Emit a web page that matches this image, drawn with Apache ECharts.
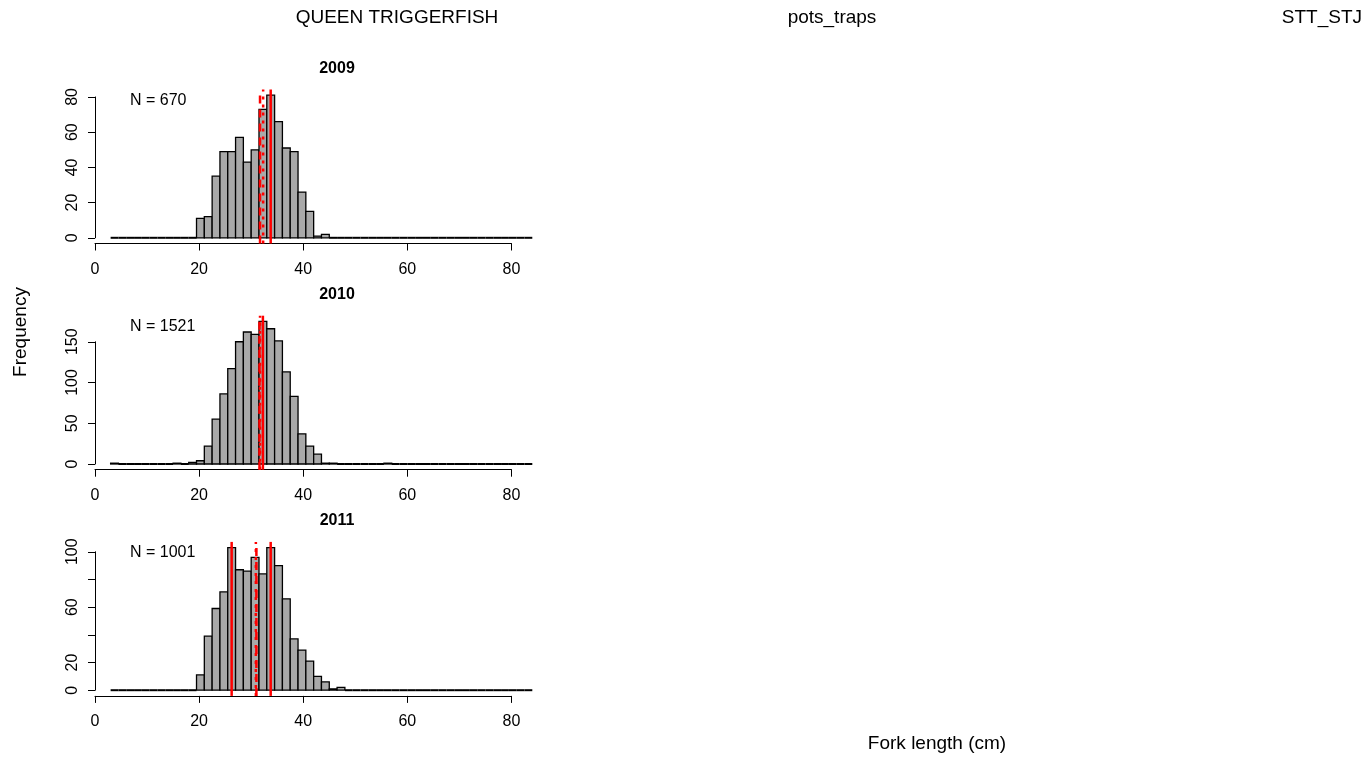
<!DOCTYPE html>
<html>
<head>
<meta charset="utf-8">
<title>Queen triggerfish length composition</title>
<script src="https://cdn.jsdelivr.net/npm/echarts@6/dist/echarts.min.js"></script>
<style>
  html, body { margin: 0; padding: 0; background: #ffffff; }
  #chart { width: 1367px; height: 759px; }
</style>
</head>
<body>
<div id="chart"></div>
<script>
// ---- data ---------------------------------------------------------------
const years = ['2009', '2010', '2011'];
const sampleSizes = [670, 1521, 1001];

// histogram breaks: 54 bins of 1.5 cm starting at 3 cm
const binStart = 3;
const binWidth = 1.5;

const counts2009 = [
  0, 0, 0, 0, 0, 0, 0, 0, 0, 0,
  0, 11, 12, 35, 49, 49, 57, 43, 50, 73,
  81, 66, 51, 49, 26, 15, 1, 2, 0, 0,
  0, 0, 0, 0, 0, 0, 0, 0, 0, 0,
  0, 0, 0, 0, 0, 0, 0, 0, 0, 0,
  0, 0, 0, 0
];
const counts2010 = [
  1, 0, 0, 0, 0, 0, 0, 0, 1, 0,
  2, 4, 22, 55, 86, 117, 150, 162, 159, 175,
  166, 151, 113, 83, 37, 22, 12, 1, 1, 0,
  0, 0, 0, 0, 0, 1, 0, 0, 0, 0,
  0, 0, 0, 0, 0, 0, 0, 0, 0, 0,
  0, 0, 0, 0
];
const counts2011 = [
  0, 0, 0, 0, 0, 0, 0, 0, 0, 0,
  0, 11, 39, 59, 71, 103, 87, 86, 96, 84,
  103, 90, 66, 37, 29, 21, 10, 6, 1, 2,
  0, 0, 0, 0, 0, 0, 0, 0, 0, 0,
  0, 0, 0, 0, 0, 0, 0, 0, 0, 0,
  0, 0, 0, 0
];
const countsByYear = [counts2009, counts2010, counts2011];

// summary statistics (cm)
const meanLength = [31.7, 31.6, 31.0];
const medianLength = [32.3, 31.7, 30.9];
const modeLength = [[33.75], [32.25], [26.25, 33.75]];

// axes
const xTicks = [0, 20, 40, 60, 80];
const yAxisMax = [80, 150, 100];
const yAxisStep = [20, 50, 20];
const yTickLabels = [
  ['0', '20', '40', '60', '80'],
  ['0', '50', '100', '150'],
  ['0', '20', '', '60', '', '100']
];

// header / axis titles
const speciesName = 'QUEEN TRIGGERFISH';
const gearName = 'pots_traps';
const regionName = 'STT_STJ';
const yTitle = 'Frequency';
const xTitle = 'Fork length (cm)';

// ---- layout -------------------------------------------------------------
const FONT = '"Liberation Sans", Arial, Helvetica, sans-serif';
const plotLeft = 95;          // x pixel of 0 cm
const xPxPerCm = 5.206;
const plotTop0 = 89.5;        // top of first panel's plotting region
const panelStep = 226.2;
const plotHeight = 154;
const expand = 0.04;          // axis range expansion of the plotting region

const grids = [], xAxes = [], yAxes = [], series = [], graphics = [];

years.forEach((year, i) => {
  const counts = countsByYear[i];
  const maxCount = Math.max(...counts);
  const span = maxCount * (1 + 2 * expand);
  const pxPerUnit = plotHeight / span;
  const plotTop = plotTop0 + panelStep * i;
  const zeroY = plotTop + maxCount * (1 + expand) * pxPerUnit;
  const gridTop = zeroY - yAxisMax[i] * pxPerUnit;
  const axisDrop = expand * maxCount * pxPerUnit;

  grids.push({
    left: plotLeft,
    top: gridTop,
    width: xTicks[xTicks.length - 1] * xPxPerCm,
    height: yAxisMax[i] * pxPerUnit,
    containLabel: false
  });

  xAxes.push({
    type: 'value', gridIndex: i,
    min: xTicks[0], max: xTicks[xTicks.length - 1], interval: xTicks[1] - xTicks[0],
    offset: axisDrop,
    axisLine: { show: true, onZero: false, lineStyle: { color: '#000', width: 1 } },
    axisTick: { show: true, length: 7, lineStyle: { color: '#000', width: 1 } },
    axisLabel: { show: true, color: '#000', fontSize: 16, fontFamily: FONT, margin: 18 },
    splitLine: { show: false }
  });

  const labels = yTickLabels[i];
  const step = yAxisStep[i];
  yAxes.push({
    type: 'value', gridIndex: i,
    min: 0, max: yAxisMax[i], interval: step,
    axisLine: { show: true, lineStyle: { color: '#000', width: 1 } },
    axisTick: { show: true, length: 7, lineStyle: { color: '#000', width: 1 } },
    axisLabel: {
      show: true, color: '#000', fontSize: 16, fontFamily: FONT,
      rotate: 90, margin: 14,
      formatter: v => labels[Math.round(v / step)] || ''
    },
    splitLine: { show: false }
  });

  // histogram bars
  const barData = counts.map((c, k) => [binStart + k * binWidth, binStart + (k + 1) * binWidth, c]);
  series.push({
    type: 'custom', name: 'hist' + year,
    xAxisIndex: i, yAxisIndex: i,
    clip: false, silent: true,
    encode: { x: [0, 1], y: 2 },
    data: barData,
    renderItem: (params, api) => {
      const x0 = api.value(0), x1 = api.value(1), c = api.value(2);
      const pTop = api.coord([x0, c]);
      const pBot = api.coord([x1, 0]);
      if (c === 0) {
        return {
          type: 'line',
          shape: { x1: pTop[0], y1: pBot[1], x2: pBot[0], y2: pBot[1] },
          style: { stroke: '#000', lineWidth: 2 }
        };
      }
      return {
        type: 'rect',
        shape: { x: pTop[0], y: pTop[1], width: pBot[0] - pTop[0], height: pBot[1] - pTop[1] },
        style: { fill: '#a9a9a9', stroke: '#000', lineWidth: 1.3 }
      };
    }
  });

  // mean (dashed), median (dotted), mode (solid) reference lines
  const yLo = -expand * maxCount, yHi = (1 + expand) * maxCount;
  const lineData = [[meanLength[i], yLo, yHi, 1], [medianLength[i], yLo, yHi, 2]];
  modeLength[i].forEach(m => lineData.push([m, yLo, yHi, 0]));
  const dashes = [null, [8, 6], [3, 5]];
  series.push({
    type: 'custom', name: 'stats' + year,
    xAxisIndex: i, yAxisIndex: i,
    clip: false, silent: true,
    encode: { x: 0, y: [1, 2] },
    data: lineData,
    renderItem: (params, api) => {
      const a = api.coord([api.value(0), api.value(1)]);
      const b = api.coord([api.value(0), api.value(2)]);
      const kind = api.value(3);
      return {
        type: 'line',
        shape: { x1: a[0], y1: a[1], x2: b[0], y2: b[1] },
        style: { stroke: '#ff0000', lineWidth: 2.5, lineDash: dashes[kind], lineCap: 'butt' }
      };
    }
  });

  // panel title and sample size
  graphics.push({
    type: 'text', x: 337, y: plotTop - 21,
    style: { text: year, fill: '#000', fontSize: 16, fontWeight: 'bold', fontFamily: FONT,
             align: 'center', verticalAlign: 'middle' }
  });
  graphics.push({
    type: 'text', x: 130, y: plotTop + 11,
    style: { text: 'N = ' + sampleSizes[i], fill: '#000', fontSize: 16, fontFamily: FONT,
             align: 'left', verticalAlign: 'middle' }
  });
});

// page header and shared axis titles
graphics.push(
  { type: 'text', x: 397, y: 18,
    style: { text: speciesName, fill: '#000', fontSize: 19, fontFamily: FONT, align: 'center', verticalAlign: 'middle' } },
  { type: 'text', x: 832, y: 18,
    style: { text: gearName, fill: '#000', fontSize: 19, fontFamily: FONT, align: 'center', verticalAlign: 'middle' } },
  { type: 'text', x: 1362, y: 18,
    style: { text: regionName, fill: '#000', fontSize: 19, fontFamily: FONT, align: 'right', verticalAlign: 'middle' } },
  { type: 'text', x: 21, y: 332, rotation: Math.PI / 2,
    style: { text: yTitle, fill: '#000', fontSize: 19, fontFamily: FONT, align: 'center', verticalAlign: 'middle' } },
  { type: 'text', x: 937, y: 744,
    style: { text: xTitle, fill: '#000', fontSize: 19, fontFamily: FONT, align: 'center', verticalAlign: 'middle' } }
);

const chart = echarts.init(document.getElementById('chart'), null, { renderer: 'canvas' });
chart.setOption({
  backgroundColor: '#ffffff',
  animation: false,
  textStyle: { fontFamily: FONT },
  grid: grids,
  xAxis: xAxes,
  yAxis: yAxes,
  series: series,
  graphic: graphics
});
</script>
</body>
</html>
